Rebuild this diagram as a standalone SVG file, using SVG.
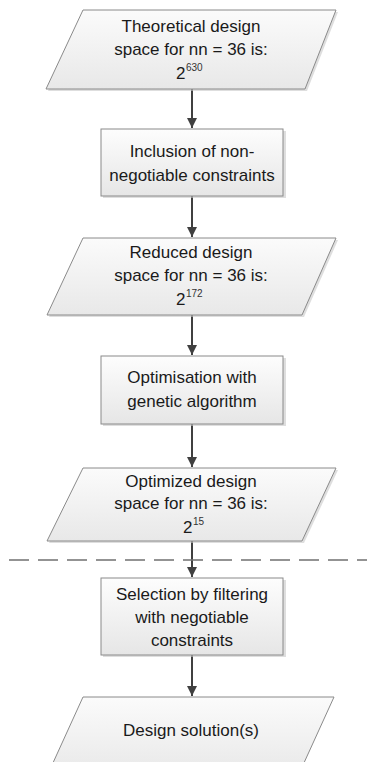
<svg xmlns="http://www.w3.org/2000/svg" width="367" height="762" viewBox="0 0 367 762">
<style>
.shape{stroke:#8a8a8a;stroke-width:1}
.para{fill:url(#gp)}
.box{fill:url(#gb)}
.shadow{fill:#c8c8c8;opacity:0.6}
text{font-family:"Liberation Sans",Arial,sans-serif;font-size:17px;fill:#1a1a1a;text-anchor:middle}
.base{text-anchor:start}
.sup{font-size:10px;text-anchor:start;fill:#333}
.conn{stroke:#404040;stroke-width:2;fill:none}
</style>
<defs>
<linearGradient id="gp" x1="0" y1="0" x2="0" y2="1">
<stop offset="0" stop-color="#fbfbfb"/><stop offset="1" stop-color="#e8e8e8"/>
</linearGradient>
<linearGradient id="gb" x1="0" y1="0" x2="0" y2="1">
<stop offset="0" stop-color="#fdfdfd"/><stop offset="1" stop-color="#e6e6e6"/>
</linearGradient>
<marker id="ah" viewBox="0 0 10 10" refX="10" refY="5" markerWidth="5" markerHeight="5" markerUnits="strokeWidth" orient="auto">
<path d="M0,0 L10,5 L0,10 z" fill="#404040"/>
</marker>
</defs>

<g id="connectors">
<line class="conn" x1="192" y1="89" x2="192" y2="128" marker-end="url(#ah)"/>
<line class="conn" x1="192" y1="196" x2="192" y2="237" marker-end="url(#ah)"/>
<line class="conn" x1="192" y1="315" x2="192" y2="355" marker-end="url(#ah)"/>
<line class="conn" x1="192" y1="424" x2="192" y2="467" marker-end="url(#ah)"/>
<line class="conn" x1="192" y1="541" x2="192" y2="577" marker-end="url(#ah)"/>
<line class="conn" x1="192" y1="655" x2="192" y2="696" marker-end="url(#ah)"/>
</g>

<line id="divider" x1="9" y1="560" x2="367" y2="560" stroke="#707070" stroke-width="1.5" stroke-dasharray="20 9"/>

<g id="n1">
<polygon class="shadow" points="85,12 338,12 307,91 48,91"/>
<polygon class="shape para" points="83,10 336,10 305,89 46,89"/>
<text x="191" y="32">Theoretical design</text>
<text x="191" y="55">space for nn = 36 is:</text>
<text class="base" x="176" y="79">2</text>
<text class="sup" x="186" y="71">630</text>
</g>

<g id="n2">
<rect class="shadow" x="103" y="131" width="183" height="67"/>
<rect class="shape box" x="101" y="129" width="182" height="67"/>
<text x="192" y="157">Inclusion of non-</text>
<text x="192" y="181">negotiable constraints</text>
</g>

<g id="n3">
<polygon class="shadow" points="85,240 338,240 304,317 49,317"/>
<polygon class="shape para" points="83,238 336,238 302,315 47,315"/>
<text x="191" y="258">Reduced design</text>
<text x="191" y="281">space for nn = 36 is:</text>
<text class="base" x="176" y="305">2</text>
<text class="sup" x="186" y="297">172</text>
</g>

<g id="n4">
<rect class="shadow" x="103" y="358" width="183" height="68"/>
<rect class="shape box" x="101" y="356" width="182" height="68"/>
<text x="192" y="383">Optimisation with</text>
<text x="192" y="407">genetic algorithm</text>
</g>

<g id="n5">
<polygon class="shadow" points="85,470 338,470 304,543 49,543"/>
<polygon class="shape para" points="83,468 336,468 302,541 47,541"/>
<text x="191" y="487">Optimized design</text>
<text x="191" y="509">space for nn = 36 is:</text>
<text class="base" x="183" y="533">2</text>
<text class="sup" x="193" y="525">15</text>
</g>

<g id="n6">
<rect class="shadow" x="103" y="580" width="183" height="77"/>
<rect class="shape box" x="101" y="578" width="182" height="77"/>
<text x="192" y="600">Selection by filtering</text>
<text x="192" y="623">with negotiable</text>
<text x="192" y="646">constraints</text>
</g>

<g id="n7">
<polygon class="shape para" points="83,697 334,697 298,776 47,776"/>
<text x="191" y="736">Design solution(s)</text>
</g>
</svg>
